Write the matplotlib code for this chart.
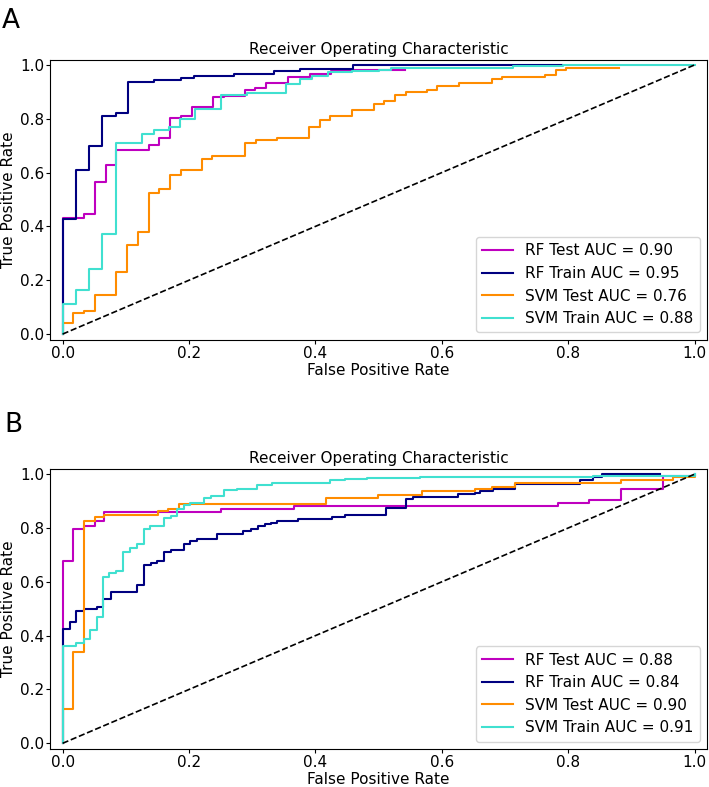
import matplotlib.pyplot as plt

# panel A - ROC points (fpr, tpr)
a_rf_test_fpr = [0, 0, .034, .051, .068, .085, .136, .153, .170, .187, .205, .238, .255, .289, .305, .322, .357, .391, .425, .46, .542]
a_rf_test_tpr = [0, .43, .447, .566, .627, .684, .702, .727, .803, .812, .844, .879, .886, .905, .915, .931, .954, .967, .976, .983, .983]
a_rf_train_fpr = [0, 0, .0205, .042, .063, .084, .104, .145, .188, .208, .271, .334, .375, .459, .79]
a_rf_train_tpr = [0, .426, .61, .697, .812, .82, .937, .943, .951, .959, .968, .976, .985, 1.0, 1.0]
a_svm_test_fpr = [0, 0, .017, .034, .051, .085, .102, .119, .136, .153, .170, .187, .221, .237, .289, .306, .339, .39, .408, .423,
                  .458, .492, .508, .526, .543, .576, .593, .627, .679, .695, .763, .781, .797, .881]
a_svm_test_tpr = [0, .041, .078, .084, .145, .229, .33, .381, .525, .54, .592, .609, .651, .661, .711, .72, .729, .77, .797, .812,
                  .831, .855, .865, .89, .899, .906, .923, .933, .946, .955, .964, .983, .989, .989]
a_svm_train_fpr = [0, 0, .0205, .042, .063, .084, .126, .145, .168, .186, .209, .250, .292, .354, .375, .395, .42, .458, .5, .52, .713, .792, 1.0]
a_svm_train_tpr = [0, .111, .163, .241, .371, .711, .744, .760, .769, .800, .837, .890, .896, .93, .946, .96, .973, .978, .982, .989, .995, 1.0, 1.0]
a_labels = ['RF Test AUC = 0.90', 'RF Train AUC = 0.95', 'SVM Test AUC = 0.76', 'SVM Train AUC = 0.88']

# panel B
b_rf_test_fpr = [0, 0, .017, .034, .051, .066, .25, .366, .784, .833, .883, .950, 1.0]
b_rf_test_tpr = [0, .679, .797, .806, .827, .859, .870, .88, .892, .905, .946, .995, 1.0]
b_rf_train_fpr = [0, 0, .0116, .0216, .034, .054, .064, .076, .118, .128, .140, .150, .160, .171, .192, .202, .213, .244, .286, .298,
                  .309, .321, .330, .339, .373, .426, .447, .511, .543, .554, .626, .652, .66, .681, .716, .818, .839, .853, .945]
b_rf_train_tpr = [0, .426, .452, .491, .499, .508, .536, .561, .587, .661, .67, .676, .711, .719, .740, .753, .759, .779, .787, .797,
                  .808, .816, .82, .827, .834, .84, .849, .874, .907, .917, .926, .93, .936, .946, .964, .979, .988, 1.0, 1.0]
b_svm_test_fpr = [0, 0, .017, .034, .051, .066, .151, .167, .184, .417, .499, .568, .652, .68, .716, .883, .966, 1.0]
b_svm_test_tpr = [0, .129, .34, .827, .839, .849, .862, .871, .89, .913, .923, .936, .946, .954, .967, .979, .989, .995]
b_svm_train_fpr = [0, 0, .0205, .034, .043, .054, .064, .073, .085, .096, .106, .118, .128, .139, .160, .171, .181, .192, .202, .223,
                   .234, .255, .276, .308, .331, .423, .447, .481, .565, .839, 1.0]
b_svm_train_tpr = [0, .361, .373, .386, .42, .47, .618, .633, .642, .71, .726, .74, .796, .806, .837, .845, .87, .886, .892, .911,
                   .92, .942, .944, .96, .968, .977, .981, .984, .988, .995, 1.0]
b_labels = ['RF Test AUC = 0.88', 'RF Train AUC = 0.84', 'SVM Test AUC = 0.90', 'SVM Train AUC = 0.91']

colors = ['m', 'navy', 'darkorange', 'turquoise']


def roc_panel(ax, curves, labels):
    for (fpr, tpr), lab, c in zip(curves, labels, colors):
        ax.plot(fpr, tpr, color=c, lw=1.5, label=lab, drawstyle='steps-post')
    ax.plot([0, 1], [0, 1], 'k--', lw=1.2)
    ax.set_xlim(-0.02, 1.02)
    ax.set_ylim(-0.022, 1.019)
    ax.set_title('Receiver Operating Characteristic', fontsize=11, pad=4)
    ax.set_xlabel('False Positive Rate', fontsize=11, labelpad=1)
    ax.set_ylabel('True Positive Rate', fontsize=11, labelpad=3)
    ax.tick_params(labelsize=11, length=3)
    ax.tick_params(axis='x', pad=1.5)
    ax.tick_params(axis='y', pad=1)
    ax.legend(loc='lower right', fontsize=11)


fig = plt.figure(figsize=(7.09, 7.87), dpi=100)
ax1 = fig.add_axes([0.0705, 0.568, 0.927, 0.356])
ax2 = fig.add_axes([0.0705, 0.048, 0.927, 0.356])

roc_panel(ax1, [(a_rf_test_fpr, a_rf_test_tpr), (a_rf_train_fpr, a_rf_train_tpr),
                (a_svm_test_fpr, a_svm_test_tpr), (a_svm_train_fpr, a_svm_train_tpr)], a_labels)
roc_panel(ax2, [(b_rf_test_fpr, b_rf_test_tpr), (b_rf_train_fpr, b_rf_train_tpr),
                (b_svm_test_fpr, b_svm_test_tpr), (b_svm_train_fpr, b_svm_train_tpr)], b_labels)

fig.text(0.003, 0.99, 'A', fontsize=19, va='top', ha='left')
fig.text(0.006, 0.4765, 'B', fontsize=19, va='top', ha='left')

fig.savefig('out.png', dpi=100)
